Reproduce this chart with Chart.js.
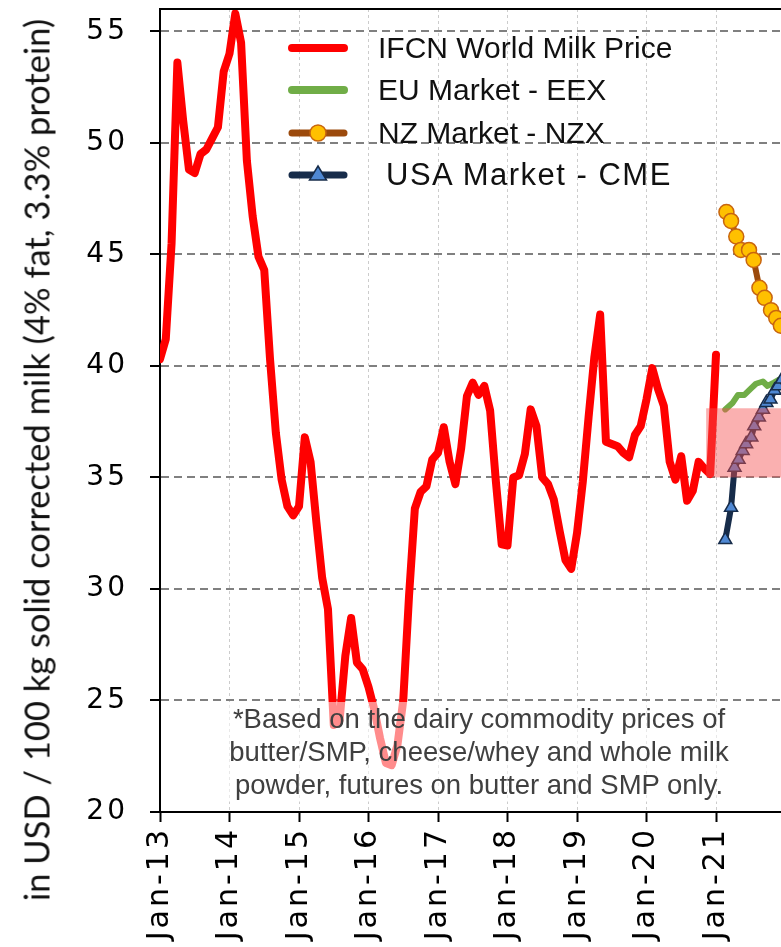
<!DOCTYPE html>
<html>
<head>
<meta charset="utf-8">
<title>IFCN World Milk Price</title>
<script src="https://cdn.jsdelivr.net/npm/chart.js@4/dist/chart.umd.min.js"></script>
<style>
  html, body { margin: 0; padding: 0; overflow: hidden; background: #fff; }
  #wrap { position: relative; width: 860px; height: 947px; }
  #chart { position: absolute; left: 0; top: 0; }
  .ytitle {
    position: absolute; left: 36px; top: 460px;
    transform: translate(-50%, -50%) rotate(-90deg);
    white-space: nowrap; font: 34.5px Lato, sans-serif; color: #111;
  }
  .legend { position: absolute; left: 288px; top: 27px; }
  .legend .row { height: 42.3px; display: flex; align-items: center; }
  .legend svg { width: 60px; height: 24px; margin-right: 30px; overflow: visible; }
  .legend span { font: 30px "Liberation Sans", Arial, sans-serif; color: #111; white-space: nowrap; }
  .legend span.wide { font-size: 31px; letter-spacing: 1.5px; margin-left: 8px; }
  .note {
    position: absolute; left: 222px; top: 702px; width: 514px; height: 100px;
    background: rgba(255, 255, 255, 0.55);
    font: 27.5px "Liberation Sans", Arial, sans-serif; color: #404040;
    text-align: center; line-height: 33px;
  }
</style>
</head>
<body>
<div id="wrap">
  <canvas id="chart" width="860" height="947"></canvas>
  <div class="ytitle">in USD / 100 kg solid corrected milk (4% fat, 3.3% protein)</div>
  <div class="legend" id="legend"></div>
  <div class="note">*Based on the dairy commodity prices of<br>butter/SMP, cheese/whey and whole milk<br>powder, futures on butter and SMP only.</div>
</div>
<script>
// months counted from Jan-13
const yearTicks = ['Jan-13', 'Jan-14', 'Jan-15', 'Jan-16', 'Jan-17', 'Jan-18', 'Jan-19', 'Jan-20', 'Jan-21'];
const priceTicks = [20, 25, 30, 35, 40, 45, 50, 55];

// IFCN World Milk Price, monthly Jan-13 .. Jan-21
const ifcnPrice = [
  40.3, 41.2, 45.5, 53.6, 51.0, 48.8, 48.65, 49.5, 49.7, 50.2, 50.7, 53.2,
  54.0, 55.8, 54.5, 49.2, 46.7, 44.9, 44.3, 40.3, 37.0, 34.9, 33.7, 33.3,
  33.7, 36.8, 35.7, 33.0, 30.5, 29.1, 23.9, 24.1, 27.0, 28.7, 26.7, 26.4,
  25.6, 24.6, 23.3, 22.2, 22.1, 23.0, 25.0, 29.7, 33.6, 34.35, 34.6, 35.8,
  36.1, 37.25, 35.7, 34.7, 36.3, 38.65, 39.25, 38.7, 39.1, 38.0, 34.8, 32.0,
  31.95, 35.0, 35.1, 36.05, 38.05, 37.3, 35.0, 34.7, 34.0, 32.6, 31.3, 30.9,
  32.5, 34.8, 37.7, 40.4, 42.3, 36.6, 36.5, 36.4, 36.1, 35.9, 36.9, 37.3,
  38.5, 39.9, 38.95, 38.2, 35.7, 34.9, 35.95, 33.95, 34.4, 35.7, 35.4, 35.15,
  40.5
];

// futures (x = months from Jan-13)
const euMonths = [97.6, 98.9, 99.8, 100.9, 102.1, 102.9, 104.1, 104.9, 106.0, 107.0];
const euPrice  = [38.05, 38.35, 38.7, 38.7, 39.0, 39.2, 39.3, 39.1, 39.25, 39.4];

const nzMonths = [97.8, 98.6, 99.5, 100.3, 101.7, 102.5, 103.5, 104.4, 105.5, 106.4, 107.2];
const nzPrice  = [46.9, 46.5, 45.8, 45.2, 45.2, 44.75, 43.5, 43.05, 42.5, 42.15, 41.8];

const usMonths = [97.6, 98.6, 99.2, 99.9, 100.6, 101.2, 102.1, 102.6, 103.4, 104.1, 104.7, 105.4, 106.1, 106.7, 107.4];
const usPrice  = [32.2, 33.65, 35.45, 35.8, 36.2, 36.5, 36.8, 37.3, 37.7, 38.05, 38.35, 38.5, 38.9, 39.1, 39.4];

// shaded forecast range
const rangeStart = 94.3;
const rangeLow = 35;
const rangeHigh = 38.1;

const RED = '#ff0000', GREEN = '#70ad47', BROWN = '#9c4a0c', GOLD = '#ffc000', GOLD_EDGE = '#c8650f';
const NAVY = '#172c4a', BLUE = '#4f88d3';

const toPoints = (xs, ys) => xs.map((x, i) => ({ x, y: ys[i] }));

const rangeBox = {
  id: 'rangeBox',
  beforeDraw(chart) {
    chart.ctx.letterSpacing = '3px';
  },
  afterDatasetsDraw(chart) {
    const { ctx, chartArea, scales: { x, y } } = chart;
    const left = x.getPixelForValue(rangeStart);
    const top = y.getPixelForValue(rangeHigh);
    const bottom = y.getPixelForValue(rangeLow);
    ctx.save();
    ctx.fillStyle = 'rgba(245, 80, 80, 0.45)';
    ctx.fillRect(left, top, chartArea.right - left, bottom - top);
    ctx.strokeStyle = '#000';
    ctx.lineWidth = 2;
    ctx.beginPath();
    ctx.moveTo(chartArea.left, chartArea.top);
    ctx.lineTo(chartArea.right, chartArea.top);
    ctx.stroke();
    ctx.restore();
  },
  afterDraw(chart) {
    chart.ctx.letterSpacing = '0px';
  }
};

// fixed axis boxes, no extra label padding
const fitX = s => { s.height = 135; s.paddingLeft = 0; s.paddingRight = 0; };
const fitY = s => { s.width = 160; s.paddingTop = 0; s.paddingBottom = 0; };

new Chart(document.getElementById('chart'), {
  type: 'line',
  data: {
    datasets: [
      {
        label: 'IFCN World Milk Price',
        data: ifcnPrice.map((v, i) => ({ x: i, y: v })),
        borderColor: RED, borderWidth: 8, pointRadius: 0,
        borderCapStyle: 'round', borderJoinStyle: 'round', order: 3,
      },
      {
        label: 'EU Market - EEX',
        data: toPoints(euMonths, euPrice),
        borderColor: GREEN, borderWidth: 6, pointRadius: 0,
        borderCapStyle: 'round', borderJoinStyle: 'round', order: 2,
      },
      {
        label: 'NZ Market - NZX',
        data: toPoints(nzMonths, nzPrice),
        borderColor: BROWN, borderWidth: 6,
        pointStyle: 'circle', pointRadius: 7.5, pointBackgroundColor: GOLD,
        pointBorderColor: GOLD_EDGE, pointBorderWidth: 1.5, order: 1,
      },
      {
        label: 'USA Market - CME',
        data: toPoints(usMonths, usPrice),
        borderColor: NAVY, borderWidth: 6,
        pointStyle: 'triangle', pointRadius: 7.5, pointBackgroundColor: BLUE,
        pointBorderColor: NAVY, pointBorderWidth: 1.5, order: 0,
      },
    ],
  },
  options: {
    responsive: false,
    animation: false,
    devicePixelRatio: 1,
    layout: { autoPadding: false, padding: { top: 9, right: 5, left: 0, bottom: 0 } },
    plugins: { legend: { display: false }, tooltip: { enabled: false } },
    scales: {
      x: {
        type: 'linear', min: 0, max: 120,
        afterFit: fitX,
        afterBuildTicks: s => { s.ticks = yearTicks.map((_, i) => ({ value: i * 12 })); },
        ticks: {
          minRotation: 90, maxRotation: 90, padding: 5,
          color: '#000', font: { family: '"DejaVu Sans", sans-serif', size: 30 },
          callback: v => yearTicks[Math.round(v / 12)],
        },
        grid: {
          color: '#cccccc', lineWidth: 1,
          tickLength: 10, tickColor: '#000', tickWidth: 2, tickBorderDash: [],
        },
        border: { display: true, color: '#000', width: 2, dash: [3, 3] },
      },
      y: {
        min: 20, max: 56,
        afterFit: fitY,
        afterBuildTicks: s => { s.ticks = priceTicks.map(v => ({ value: v })); },
        ticks: { padding: 22, color: '#000', font: { family: '"DejaVu Sans", sans-serif', size: 28 } },
        grid: {
          color: '#808080', lineWidth: 2,
          tickLength: 10, tickColor: '#000', tickWidth: 2, tickBorderDash: [],
        },
        border: { display: true, color: '#000', width: 2, dash: [8, 5] },
      },
    },
  },
  plugins: [rangeBox],
});

// legend built from the same series styles
const legendItems = [
  { text: 'IFCN World Milk Price', color: RED, width: 8 },
  { text: 'EU Market - EEX', color: GREEN, width: 8 },
  { text: 'NZ Market - NZX', color: BROWN, width: 7, marker: 'circle' },
  { text: 'USA Market - CME', color: NAVY, width: 7, marker: 'triangle', wide: true },
];
document.getElementById('legend').innerHTML = legendItems.map(it => {
  let mark = '';
  if (it.marker === 'circle') {
    mark = `<circle cx="30" cy="12" r="8" fill="${GOLD}" stroke="${GOLD_EDGE}" stroke-width="1.5"/>`;
  } else if (it.marker === 'triangle') {
    mark = `<polygon points="30,3 38.5,17 21.5,17" fill="${BLUE}" stroke="${NAVY}" stroke-width="1.5"/>`;
  }
  return `<div class="row"><svg viewBox="0 0 60 24">
      <line x1="4" y1="12" x2="56" y2="12" stroke="${it.color}" stroke-width="${it.width}" stroke-linecap="round"/>${mark}
    </svg><span class="${it.wide ? 'wide' : ''}">${it.text}</span></div>`;
}).join('');
</script>
</body>
</html>
